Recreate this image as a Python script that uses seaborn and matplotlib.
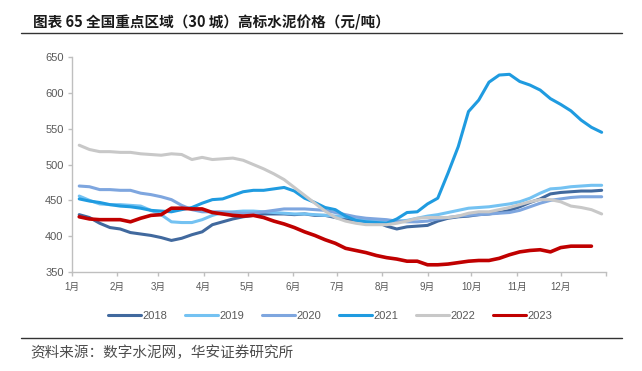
import pandas as pd
import seaborn as sns
import matplotlib.pyplot as plt

# weekly high-grade cement price, national 30 cities (yuan/ton)
# x = day of the year of each weekly observation
week_day = list(range(5, 363, 7))

p2018 = [430, 426, 418, 412, 410, 405, 403, 401, 398, 394, 397, 402, 406,
         416, 420, 424, 427, 429, 431, 431, 431, 430, 431, 429, 429, 426,
         424, 422, 421, 420, 414, 410, 413, 414, 415, 421, 425, 427, 428,
         430, 431, 433, 436, 441, 447, 452, 459, 461, 462, 463, 463, 464]
p2019 = [456, 450, 445, 444, 444, 443, 442, 436, 430, 420, 419, 419, 423,
         429, 433, 434, 435, 435, 434, 433, 432, 431, 431, 430, 429, 428,
         427, 425, 423, 421, 420, 421, 422, 425, 428, 430, 433, 436, 439,
         440, 441, 443, 445, 448, 453, 460, 466, 467, 469, 470, 471, 471]
p2020 = [470, 469, 465, 465, 464, 464, 460, 458, 455, 451, 443, 437, 434,
         434, 434, 433, 432, 432, 434, 436, 438, 438, 438, 437, 436, 433,
         430, 427, 425, 424, 423, 421, 420, 420, 421, 424, 426, 428, 429,
         430, 431, 432, 433, 436, 441, 446, 450, 452, 454, 455, 455, 455]
p2021 = [452, 449, 447, 444, 442, 441, 439, 436, 435, 434, 437, 440, 446,
         451, 452, 457, 462, 464, 464, 466, 468, 463, 453, 447, 440, 437,
         428, 422, 420, 419, 418, 424, 433, 434, 445, 453, 488, 525, 574,
         590, 615, 625, 626, 616, 611, 604, 592, 584, 575, 562, 552, 545]
p2022 = [527, 521, 518, 518, 517, 517, 515, 514, 513, 515, 514, 507, 510,
         507, 508, 509, 506, 500, 494, 487, 479, 468, 457, 446, 435, 426,
         421, 418, 416, 416, 416, 418, 421, 425, 426, 426, 426, 428, 432,
         434, 434, 437, 440, 444, 448, 451, 451, 448, 442, 440, 437, 431]
p2023 = [427, 424, 423, 423, 423, 420, 425, 429, 430, 439, 439, 438, 438,
         433, 431, 429, 428, 429, 426, 421, 417, 412, 406, 401, 395, 390,
         383, 380, 377, 373, 370, 368, 365, 365, 360, 360, 361, 363, 365,
         366, 366, 369, 374, 378, 380, 381, 378, 384, 386, 386, 386]

years = ['2018', '2019', '2020', '2021', '2022', '2023']
series = [p2018, p2019, p2020, p2021, p2022, p2023]
colors = ['#41699E', '#74C2F2', '#7EA6DF', '#1F9BE0', '#C8C8C8', '#C00000']

month_start = [0, 31, 59, 90, 120, 151, 181, 212, 243, 273, 304, 334, 365]
month_labels = ['1月', '2月', '3月', '4月', '5月', '6月', '7月', '8月',
                '9月', '10月', '11月', '12月', '']

# long format for seaborn
frames = []
for yr, vals in zip(years, series):
    frames.append(pd.DataFrame({'day': week_day[:len(vals)],
                                'price': vals,
                                'year': yr}))
df = pd.concat(frames, ignore_index=True)

sns.set_theme(style='white')
plt.rcParams['font.family'] = ['Liberation Sans', 'Noto Sans CJK SC', 'DejaVu Sans']

fig = plt.figure(figsize=(6.42, 3.71), dpi=100)
ax = fig.add_axes([0.112, 0.267, 0.832, 0.579])

sns.lineplot(data=df, x='day', y='price', hue='year',
             palette=dict(zip(years, colors)), linewidth=2.2,
             sort=False, estimator=None, ax=ax)
for line in ax.lines:
    line.set_solid_joinstyle('round')
# 2023 is drawn a bit heavier
ax.lines[len(years) - 1].set_linewidth(2.6)

ax.set_xlim(0, 365)
ax.set_ylim(350, 650)
ax.set_yticks(range(350, 651, 50))
ax.set_xticks(month_start)
ax.set_xticklabels(month_labels)
ax.set_xlabel('')
ax.set_ylabel('')

for side in ['top', 'right']:
    ax.spines[side].set_visible(False)
for side in ['left', 'bottom']:
    ax.spines[side].set_color('#BFBFBF')
    ax.spines[side].set_linewidth(1.0)
ax.tick_params(axis='y', colors='#BFBFBF', labelcolor='#595959',
               labelsize=8, length=3, width=1, direction='out', left=True, pad=3)
ax.tick_params(axis='x', colors='#BFBFBF', labelcolor='#595959',
               labelsize=7, length=3, width=1, direction='out', bottom=True, pad=4)

handles, labels = ax.get_legend_handles_labels()
for h in handles:
    h.set_solid_capstyle('round')
ax.legend(handles, labels, ncol=6, loc='center',
          bbox_to_anchor=(0.514, 0.148), bbox_transform=fig.transFigure,
          frameon=False, fontsize=8, handlelength=3.0, handletextpad=0.1,
          columnspacing=1.6, labelcolor='#595959')

# title and source, with rules
fig.text(0.051, 0.941, '图表 65 全国重点区域（30 城）高标水泥价格（元/吨）',
         fontsize=10.5, fontweight='bold', color='#1A1A1A', va='center',
         family=['Noto Sans CJK SC', 'DejaVu Sans'])
fig.add_artist(plt.Line2D([0.033, 0.969], [0.912, 0.912], color='#333333',
                          linewidth=1.0, transform=fig.transFigure))
fig.add_artist(plt.Line2D([0.033, 0.969], [0.089, 0.089], color='#333333',
                          linewidth=1.0, transform=fig.transFigure))
fig.text(0.047, 0.049, '资料来源：数字水泥网，华安证券研究所',
         fontsize=10.5, color='#4D4D4D', va='center',
         family=['Noto Sans CJK SC', 'DejaVu Sans'])

fig.savefig('out.png', dpi=100)
